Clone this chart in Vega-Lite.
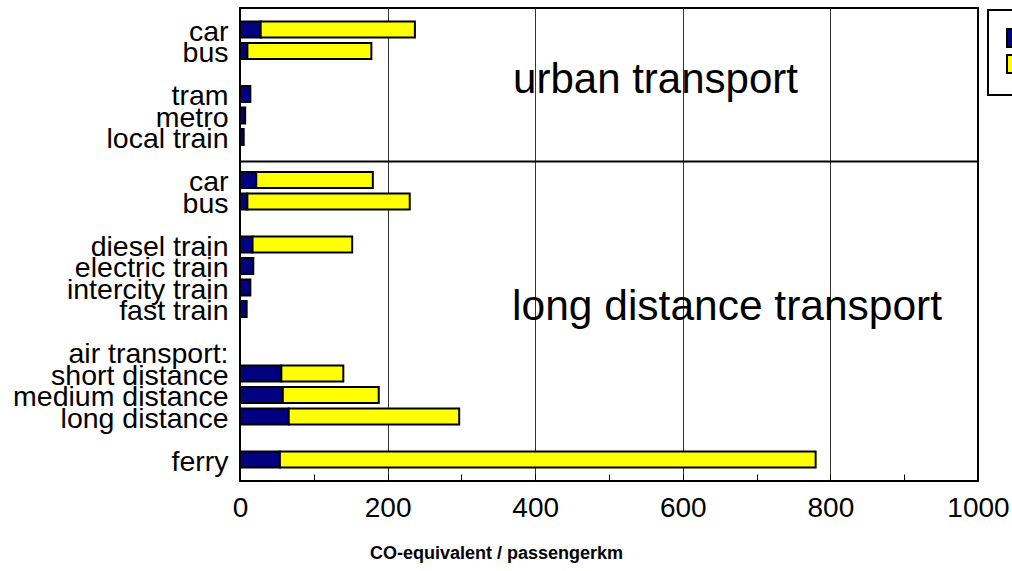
{
  "$schema": "https://vega.github.io/schema/vega-lite/v6.json",
  "autosize": {"type": "none"},
  "padding": {"left": 240, "top": 8, "right": 34, "bottom": 90},
  "width": 738,
  "height": 473,
  "config": {
    "font": "Liberation Sans",
    "view": {"stroke": "#000", "strokeWidth": 2},
    "legend": {
      "orient": "none", "legendX": 748, "legendY": 2,
      "strokeColor": "#000", "strokeWidth": 2, "padding": 18,
      "symbolType": "square", "symbolSize": 324, "symbolStrokeColor": "#000",
      "symbolStrokeWidth": 2, "labelFontSize": 20, "rowPadding": 0, "title": null
    }
  },
  "datasets": {
    "bars": [
      {"id": "car|u", "component": "indirect", "ord": 1, "value": 28},
      {"id": "car|u", "component": "direct", "ord": 2, "value": 209},
      {"id": "bus|u", "component": "indirect", "ord": 1, "value": 10},
      {"id": "bus|u", "component": "direct", "ord": 2, "value": 168},
      {"id": "tram", "component": "indirect", "ord": 1, "value": 14},
      {"id": "metro", "component": "indirect", "ord": 1, "value": 7},
      {"id": "local train", "component": "indirect", "ord": 1, "value": 5},
      {"id": "car|l", "component": "indirect", "ord": 1, "value": 22},
      {"id": "car|l", "component": "direct", "ord": 2, "value": 158},
      {"id": "bus|l", "component": "indirect", "ord": 1, "value": 10},
      {"id": "bus|l", "component": "direct", "ord": 2, "value": 220},
      {"id": "diesel train", "component": "indirect", "ord": 1, "value": 17},
      {"id": "diesel train", "component": "direct", "ord": 2, "value": 135},
      {"id": "electric train", "component": "indirect", "ord": 1, "value": 18},
      {"id": "intercity train", "component": "indirect", "ord": 1, "value": 14},
      {"id": "fast train", "component": "indirect", "ord": 1, "value": 9},
      {"id": "short distance", "component": "indirect", "ord": 1, "value": 56},
      {"id": "short distance", "component": "direct", "ord": 2, "value": 84},
      {"id": "medium distance", "component": "indirect", "ord": 1, "value": 58},
      {"id": "medium distance", "component": "direct", "ord": 2, "value": 130},
      {"id": "long distance", "component": "indirect", "ord": 1, "value": 66},
      {"id": "long distance", "component": "direct", "ord": 2, "value": 231},
      {"id": "ferry", "component": "indirect", "ord": 1, "value": 54},
      {"id": "ferry", "component": "direct", "ord": 2, "value": 726}
    ],
    "divider": [{"id": "|g2"}],
    "note1": [{"id": "|g1", "x": 563, "text": "urban transport"}],
    "note2": [{"id": "fast train", "x": 660, "text": "long distance transport"}]
  },
  "layer": [
    {
      "data": {"name": "bars"},
      "mark": {"type": "bar", "stroke": "#000", "strokeWidth": 2},
      "encoding": {
        "y": {
          "field": "id", "type": "nominal",
          "scale": {
            "domain": ["car|u", "bus|u", "|g1", "tram", "metro", "local train", "|g2", "car|l", "bus|l", "|g3", "diesel train", "electric train", "intercity train", "fast train", "|g4", "air transport:", "short distance", "medium distance", "long distance", "|g5", "ferry"],
            "paddingInner": 0.25, "paddingOuter": 0.625
          },
          "axis": {
            "title": null, "ticks": false, "domain": false,
            "labelExpr": "split(datum.label, '|')[0]",
            "labelFontSize": 28.5, "labelPadding": 12, "labelColor": "#000",
            "labelBaseline": "middle", "labelLimit": 400, "labelOffset": 2
          }
        },
        "x": {
          "field": "value", "type": "quantitative", "stack": "zero",
          "scale": {"domain": [0, 1000], "nice": false},
          "axis": {
            "title": "CO-equivalent / passengerkm",
            "values": [0, 100, 200, 300, 400, 500, 600, 700, 800, 900, 1000],
            "labelExpr": "datum.value % 200 === 0 ? datum.label : ''",
            "labelFontSize": 28, "labelColor": "#000", "labelFlush": false,
            "labelPadding": 20, "format": "d",
            "tickSize": -7, "tickColor": "#000", "tickWidth": 1,
            "domain": false,
            "grid": true, "gridColor": "#333", "gridWidth": 1,
            "gridOpacity": {"condition": {"test": "datum.value % 200 === 0 && datum.value > 0 && datum.value < 1000", "value": 1}, "value": 0},
            "titleFontSize": 18, "titleFontWeight": "bold", "titleColor": "#000",
            "titleX": 256, "titleY": 77, "titleAlign": "center", "titleBaseline": "alphabetic"
          }
        },
        "color": {
          "field": "component", "type": "nominal",
          "scale": {"domain": ["indirect", "direct"], "range": ["#000080", "#FFFF00"]}
        },
        "order": {"field": "ord", "type": "quantitative"}
      }
    },
    {
      "data": {"name": "divider"},
      "mark": {"type": "rule", "color": "#000", "strokeWidth": 2, "yOffset": 3},
      "encoding": {"y": {"field": "id", "type": "nominal"}}
    },
    {
      "data": {"name": "note1"},
      "mark": {"type": "text", "fontSize": 42, "align": "center", "baseline": "alphabetic", "color": "#000", "dy": 20},
      "encoding": {
        "y": {"field": "id", "type": "nominal"},
        "x": {"field": "x", "type": "quantitative"},
        "text": {"field": "text"}
      }
    },
    {
      "data": {"name": "note2"},
      "mark": {"type": "text", "fontSize": 42.5, "align": "center", "baseline": "alphabetic", "color": "#000", "dy": 11},
      "encoding": {
        "y": {"field": "id", "type": "nominal"},
        "x": {"field": "x", "type": "quantitative"},
        "text": {"field": "text"}
      }
    }
  ]
}
